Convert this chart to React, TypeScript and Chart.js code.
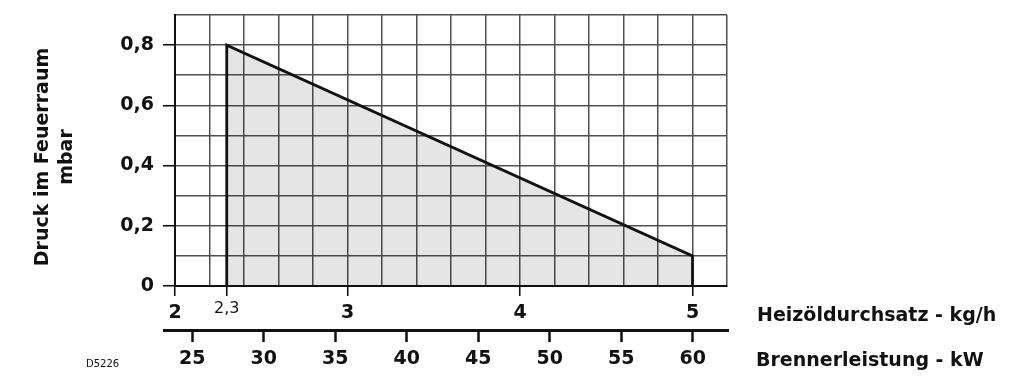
import React, { useEffect, useRef } from "react";
import { Chart, registerables } from "chart.js";

Chart.register(...registerables);

// Oil throughput (kg/h) grid / tick values
const flowTicks = [2, 2.2, 2.3, 2.4, 2.6, 2.8, 3, 3.2, 3.4, 3.6, 3.8, 4, 4.2, 4.4, 4.6, 4.8, 5, 5.2];
const flowLabels: Record<string, string> = { "2": "2", "2.3": "2,3", "3": "3", "4": "4", "5": "5" };
// Burner output (kW) ticks
const powerTicks = [25, 30, 35, 40, 45, 50, 55, 60];
// Pressure (mbar) grid / tick values
const pressureTicks = [0, 0.1, 0.2, 0.3, 0.4, 0.5, 0.6, 0.7, 0.8, 0.9];
const pressureLabels: Record<string, string> = { "0": "0", "0.2": "0,2", "0.4": "0,4", "0.6": "0,6", "0.8": "0,8" };
// Working field boundary
const boundaryFlow = [2.3, 2.3, 5, 5];
const boundaryPressure = [0, 0.8, 0.1, 0];

const FONT = "'DejaVu Sans'";
const GRID = "#505050";
const INK = "#111111";

const titlesPlugin = {
  id: "titles",
  afterDraw(chart: any) {
    const ctx = chart.ctx as CanvasRenderingContext2D;
    const x2 = chart.scales.x2;
    ctx.save();
    // lower axis line (burner output)
    ctx.strokeStyle = INK;
    ctx.lineWidth = 3;
    ctx.beginPath();
    ctx.moveTo(163, x2.top + 0.5);
    ctx.lineTo(729, x2.top + 0.5);
    ctx.stroke();

    ctx.fillStyle = INK;
    ctx.font = `bold 19px ${FONT}`;
    // y title
    ctx.save();
    ctx.translate(43, 157);
    ctx.rotate(-Math.PI / 2);
    ctx.textAlign = "center";
    ctx.textBaseline = "middle";
    ctx.fillText("Druck im Feuerraum", 0, 0);
    ctx.fillText("mbar", 0, 24);
    ctx.restore();
    // x titles
    ctx.textAlign = "left";
    ctx.textBaseline = "alphabetic";
    ctx.fillText("Heizöldurchsatz - kg/h", 757, 321);
    ctx.fillText("Brennerleistung - kW", 756, 366);
    ctx.font = `10px ${FONT}`;
    ctx.fillText("D5226", 86, 367);
    ctx.restore();
  },
};

export default function App() {
  const ref = useRef<HTMLCanvasElement | null>(null);
  useEffect(() => {
    if (!ref.current) return;
    const data = boundaryFlow.map((x, i) => ({ x, y: boundaryPressure[i] }));
    const chart = new Chart(ref.current, {
      type: "scatter",
      data: {
        datasets: [
          {
            data,
            showLine: true,
            fill: "origin",
            backgroundColor: "rgba(0,0,0,0.1)",
            borderColor: INK,
            borderWidth: 2.8,
            borderJoinStyle: "miter",
            pointRadius: 0,
            pointHoverRadius: 0,
          } as any,
        ],
      },
      options: {
        animation: false,
        responsive: false,
        events: [],
        layout: { padding: { top: 15, right: 297, left: 0, bottom: 0 } },
        plugins: { legend: { display: false }, tooltip: { enabled: false } },
        scales: {
          x: {
            type: "linear",
            position: "bottom",
            weight: 0,
            min: 2,
            max: 5.2,
            afterBuildTicks: (s: any) => {
              s.ticks = flowTicks.map((v) => ({ value: v }));
            },
            afterFit: (s: any) => {
              s.height = 44;
              s.paddingLeft = 0;
              s.paddingRight = 0;
            },
            border: { display: true, color: INK, width: 2 },
            grid: {
              color: (c: any) => (c.tick && c.tick.value === 2.3 ? "rgba(0,0,0,0)" : GRID),
              lineWidth: 1.5,
              tickLength: 10,
              tickWidth: 1.6,
              tickColor: (c: any) =>
                c.tick && flowLabels[String(c.tick.value)] !== undefined ? INK : "rgba(0,0,0,0)",
            },
            ticks: {
              autoSkip: false,
              maxRotation: 0,
              padding: 6,
              color: INK,
              callback: (v: any) => flowLabels[String(v)] ?? "",
              font: (c: any) =>
                c.tick && c.tick.value === 2.3
                  ? { family: FONT, size: 16, weight: "normal", lineHeight: "13px" }
                  : { family: FONT, size: 19, weight: "bold", lineHeight: 1.2 },
            },
          },
          x2: {
            type: "linear",
            axis: "x",
            position: "bottom",
            weight: 1,
            min: 23.8,
            max: 62.4,
            afterBuildTicks: (s: any) => {
              s.ticks = powerTicks.map((v) => ({ value: v }));
            },
            afterFit: (s: any) => {
              s.height = 50;
              s.paddingLeft = 0;
              s.paddingRight = 0;
            },
            border: { display: false },
            grid: {
              drawOnChartArea: false,
              tickLength: 12,
              tickWidth: 2.5,
              tickColor: INK,
            },
            ticks: {
              autoSkip: false,
              maxRotation: 0,
              padding: 6,
              color: INK,
              callback: (v: any) => String(v),
              font: { family: FONT, size: 19, weight: "bold" },
            },
          },
          y: {
            type: "linear",
            position: "left",
            min: 0,
            max: 0.9,
            afterBuildTicks: (s: any) => {
              s.ticks = pressureTicks.map((v) => ({ value: v }));
            },
            afterFit: (s: any) => {
              s.width = 175;
              s.paddingTop = 0;
              s.paddingBottom = 0;
            },
            border: { display: true, color: INK, width: 2 },
            grid: {
              color: GRID,
              lineWidth: 1.5,
              tickLength: 12,
              tickWidth: 1.6,
              tickColor: (c: any) =>
                c.tick && pressureLabels[String(c.tick.value)] !== undefined ? INK : "rgba(0,0,0,0)",
            },
            ticks: {
              autoSkip: false,
              padding: 9,
              color: INK,
              callback: (v: any) => pressureLabels[String(v)] ?? "",
              font: { family: FONT, size: 19, weight: "bold" },
            },
          },
        } as any,
      },
      plugins: [titlesPlugin],
    });
    return () => chart.destroy();
  }, []);

  return (
    <div style={{ position: "fixed", left: 0, top: 0, width: 1024, height: 380, background: "#fff" }}>
      <canvas ref={ref} width={1024} height={380} style={{ display: "block" }} />
    </div>
  );
}
